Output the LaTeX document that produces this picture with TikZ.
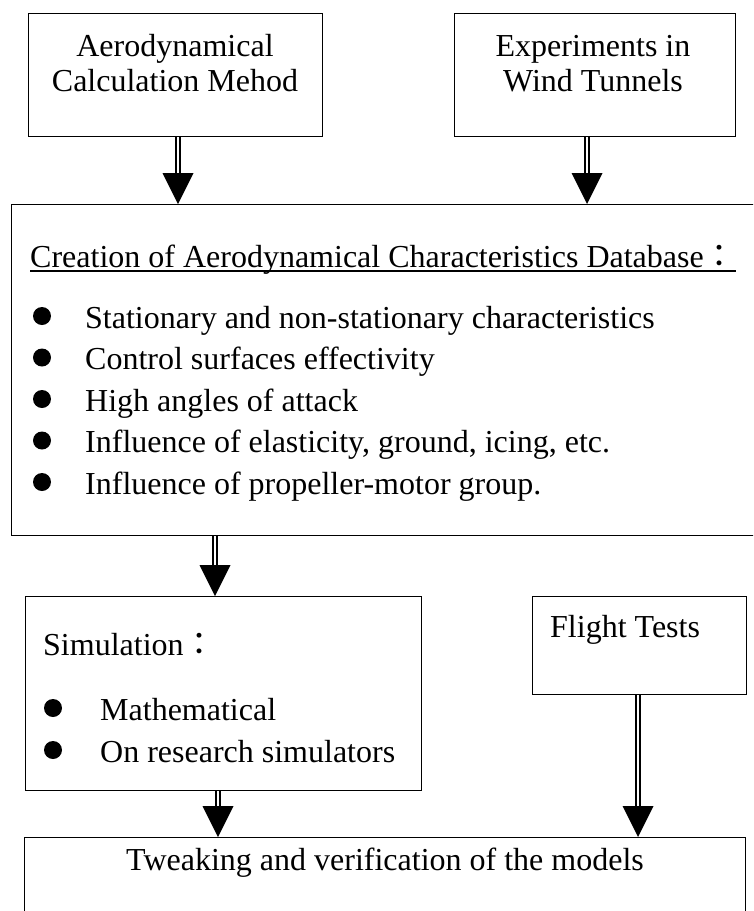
\documentclass[tikz,border=0pt]{standalone}
\usepackage{fontspec}
\setmainfont{Liberation Serif}
\newfontfamily\cjkfont{Noto Sans CJK TC}
\usetikzlibrary{calc}

\tikzset{
  box/.style={draw, line width=1.4pt, inner sep=0pt, anchor=north west},
  txt/.style={inner sep=0pt, font=\fontsize{32}{38}\selectfont},
  shaft/.style={line width=1.3pt, double, double distance=2.8pt},
}
\newcommand\fwcolon{{\cjkfont ：}}

% double-lined feed arrow with a solid triangular head:
% #1 source node, #2 target node, #3 x position of the arrow
\newcommand\feed[3]{%
  \coordinate (col) at (#3,0);
  \draw[shaft] (#1.south -| col) -- ($(#2.north -| col)+(0,-29)$);
  \fill ($(#2.north -| col)+(-15.5,-31)$) -- ($(#2.north -| col)+(15.5,-31)$)
        -- (#2.north -| col) -- cycle;
}

\begin{document}
\begin{tikzpicture}[x=1pt,y=-1pt]
\useasboundingbox (0,0) rectangle (753,911);
\clip (0,0) rectangle (753,911);

% boxes
\node[box, minimum width=294pt, minimum height=123pt] (aero)   at (28,13)  {};
\node[box, minimum width=281pt, minimum height=123pt] (wind)   at (454,13) {};
\node[box, minimum width=745pt, minimum height=331pt] (db)     at (11,204) {};
\node[box, minimum width=396pt, minimum height=194pt] (sim)    at (25,596) {};
\node[box, minimum width=214pt, minimum height=98pt]  (flight) at (532,596) {};
\node[box, minimum width=721pt, minimum height=130pt] (tweak)  at (24,837) {};

% source boxes
\node[txt, anchor=base] (aeroA) at (175,56) {Aerodynamical};
\node[txt, anchor=base] (aeroB) at (175,91) {Calculation Mehod};
\node[txt, anchor=base] (windA) at (593,56) {Experiments in};
\node[txt, anchor=base] (windB) at (593,91) {Wind Tunnels};

% database box
\node[txt, anchor=base west] (dbhead) at (30,267)
  {Creation of Aerodynamical Characteristics Database\fwcolon};
\draw[line width=1.3pt] ($(dbhead.base west)+(0,4)$) -- ($(dbhead.base east)+(0,4)$);
\foreach \t [count=\i] in {Stationary and non-stationary characteristics,
    Control surfaces effectivity,
    High angles of attack,
    {Influence of elasticity, ground, icing, etc.},
    Influence of propeller-motor group.}{
  \pgfmathsetmacro\yb{328+(\i-1)*41.5}
  \fill (42,\yb-12) circle (9pt);
  \node[txt, anchor=base west] (dbitem\i) at (85,\yb) {\t};
}

% simulation box
\node[txt, anchor=base west] (simhead) at (43,655) {Simulation\fwcolon};
\foreach \t/\yb [count=\i] in {Mathematical/720, On research simulators/762}{
  \fill (53,\yb-12) circle (9pt);
  \node[txt, anchor=base west] (simitem\i) at (100,\yb) {\t};
}

% flight tests and final box
\node[txt, anchor=base west] (flighttxt) at (550,637) {Flight Tests};
\node[txt, anchor=base] (tweaktxt) at (385,870) {Tweaking and verification of the models};

% arrows
\feed{aero}{db}{178}
\feed{wind}{db}{587}
\feed{db}{sim}{215}
\feed{sim}{tweak}{218}
\feed{flight}{tweak}{638}
\end{tikzpicture}
\end{document}
